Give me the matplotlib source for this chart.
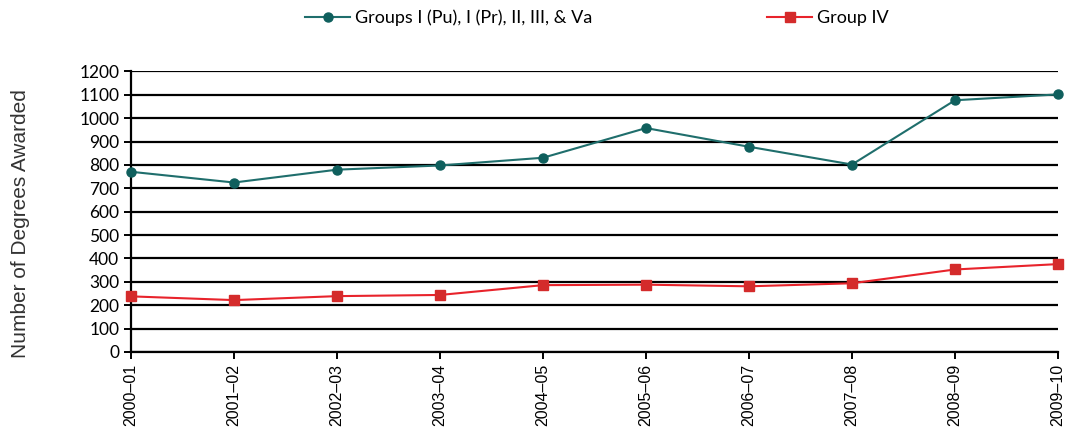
import matplotlib
import numpy as np

matplotlib.use("Agg")
import matplotlib.pyplot as plt  # noqa: E402

years = ["2000–01", "2001–02", "2002–03", "2003–04", "2004–05",
         "2005–06", "2006–07", "2007–08", "2008–09", "2009–10"]
groups_main = [771, 725, 780, 798, 831, 958, 878, 802, 1077, 1102]
group_iv = [238, 222, 239, 244, 286, 288, 281, 294, 353, 376]
y_ticks = list(range(0, 1201, 100))

TEAL = "#1f6e6c"
TEAL_DARK = "#0f5f5d"
RED = "#e8232b"
RED_DARK = "#d42b2b"

fig = plt.figure(figsize=(10.66, 4.32), dpi=100)
ax = fig.add_axes([0.1229, 0.1852, 0.8696, 0.6493])

x = np.arange(len(years))
ax.plot(x, groups_main, color=TEAL, lw=1.5, marker="o", ms=6.5,
        mfc=TEAL_DARK, mec=TEAL_DARK, label="Groups I (Pu), I (Pr), II, III, & Va",
        clip_on=False, zorder=3)
ax.plot(x, group_iv, color=RED, lw=1.5, marker="s", ms=6.5,
        mfc=RED_DARK, mec=RED_DARK, label="Group IV", clip_on=False, zorder=3)

ax.set_xlim(0, len(years) - 1)
ax.set_ylim(0, 1200)
ax.set_yticks(y_ticks)
ax.set_xticks(x)
ax.set_xticklabels(years, rotation=90, fontsize=11.5, family="Liberation Sans")
for lbl in ax.get_yticklabels():
    lbl.set_family("Lato")
    lbl.set_fontsize(12.5)
ax.yaxis.grid(True, color="black", lw=1.6)
ax.set_axisbelow(True)
for side in ("top", "right"):
    ax.spines[side].set_visible(False)
ax.spines["left"].set_linewidth(1.6)
ax.spines["bottom"].set_linewidth(1.6)
ax.tick_params(axis="both", direction="out", length=5, width=1.4, colors="black")
ax.set_ylabel("Number of Degrees Awarded", fontsize=15, color="#333333",
              family="Liberation Sans")
ax.yaxis.set_label_coords(-0.1089, 0.458)

fig.legend(loc="center", bbox_to_anchor=(0.560, 0.958), ncol=2, frameon=False,
           columnspacing=9.7, handlelength=2.5, handletextpad=0.25,
           prop={"family": "Lato", "size": 13})

fig.savefig("out.png")
plt.close(fig)
